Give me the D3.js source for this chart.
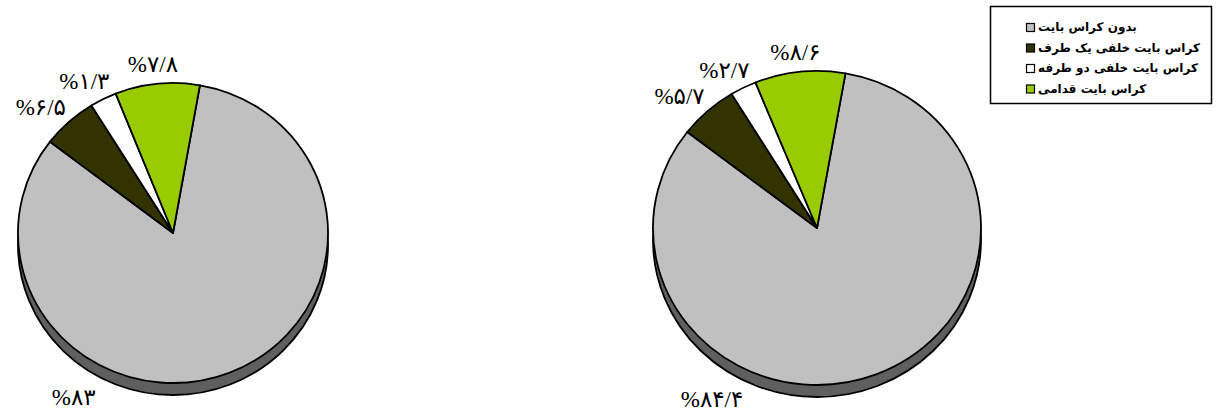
<!DOCTYPE html>
<html>
<head>
<meta charset="utf-8">
<script src="https://cdn.jsdelivr.net/npm/d3@7"></script>
<style>
  body { margin: 0; background: #fff; }
  svg { display: block; }
</style>
</head>
<body>
<script>
// categories, in drawing order (clockwise from the start angle)
var categories = ["بدون کراس بایت", "کراس بایت خلفی یک طرف", "کراس بایت خلفی دو طرفه", "کراس بایت قدامی"];
var colors = ["#c0c0c0", "#333300", "#ffffff", "#99cc00"];

// slice shares as drawn in the picture
var leftShares = [82.6, 5.75, 2.8, 8.8];
var rightShares = [82.7, 5.8, 2.6, 8.9];

// data label texts printed on each pie
var leftLabels = ["%۸۳", "%۶/۵", "%۱/۳", "%۷/۸"];
var rightLabels = ["%۸۴/۴", "%۵/۷", "%۲/۷", "%۸/۶"];

var width = 1216,
    height = 413,
    depth = 12,
    startDeg = 10;

var svg = d3.select("body").append("svg")
    .attr("width", width)
    .attr("height", height);

var pie = d3.pie()
    .sort(null)
    .value(function(d) { return d; })
    .startAngle(startDeg * Math.PI / 180)
    .endAngle(startDeg * Math.PI / 180 + 2 * Math.PI);

function drawPie(shares, labels, cx, cy, rx, ry) {
  var g = svg.append("g");
  var arc = d3.arc().innerRadius(0).outerRadius(rx);
  var k = ry / rx;

  // side of the disc
  g.append("ellipse")
      .attr("cx", cx)
      .attr("cy", cy + depth)
      .attr("rx", rx)
      .attr("ry", ry)
      .attr("fill", "#5f5f5f")
      .attr("stroke", "#000")
      .attr("stroke-width", 1.8);

  var face = g.append("g")
      .attr("transform", "translate(" + cx + "," + cy + ") scale(1," + k + ")");

  var arcs = pie(shares);

  face.selectAll("path")
      .data(arcs)
    .enter().append("path")
      .attr("d", arc)
      .attr("fill", function(d, i) { return colors[i]; })
      .attr("stroke", "#000")
      .attr("stroke-width", 1.8)
      .attr("stroke-linejoin", "round")
      .attr("vector-effect", "non-scaling-stroke");

  // labels: small slices sit outside their mid-angle, the big one below-left
  function labelPos(d, i) {
    if (i === 0) return [cx - 0.64 * rx, cy + ry + 14];
    var a = (d.startAngle + d.endAngle) / 2;
    return [cx + Math.sin(a) * (rx + 42), cy - Math.cos(a) * (ry + 20)];
  }

  g.selectAll("text.lbl")
      .data(arcs)
    .enter().append("text")
      .attr("class", "lbl")
      .attr("x", function(d, i) { return labelPos(d, i)[0]; })
      .attr("y", function(d, i) { return labelPos(d, i)[1]; })
      .attr("dy", "0.35em")
      .attr("text-anchor", "middle")
      .style("direction", "ltr")
      .style("unicode-bidi", "bidi-override")
      .style("font-family", "'Liberation Serif', 'DejaVu Sans', serif")
      .style("font-size", "23px")
      .style("letter-spacing", "1px")
      .attr("fill", "#000")
      .text(function(d, i) { return labels[i]; });
}

drawPie(leftShares, leftLabels, 173, 233, 155, 150);
drawPie(rightShares, rightLabels, 817, 228, 164, 157);

// legend
var legend = svg.append("g");
legend.append("rect")
    .attr("x", 990.5)
    .attr("y", 6.5)
    .attr("width", 221)
    .attr("height", 97)
    .attr("fill", "#fff")
    .attr("stroke", "#000")
    .attr("stroke-width", 1.5);

var rowY = d3.scalePoint()
    .domain(d3.range(categories.length))
    .range([27, 88.5]);

var item = legend.selectAll("g.item")
    .data(categories)
  .enter().append("g")
    .attr("class", "item")
    .attr("transform", function(d, i) { return "translate(1026," + rowY(i) + ")"; });

item.append("rect")
    .attr("x", 0.5)
    .attr("y", -3.5)
    .attr("width", 8)
    .attr("height", 8)
    .attr("fill", function(d, i) { return colors[i]; })
    .attr("stroke", "#000")
    .attr("stroke-width", 1.2);

item.append("text")
    .attr("x", 12)
    .attr("y", 0)
    .attr("dy", "0.35em")
    .attr("text-anchor", "start")
    .style("font-family", "'DejaVu Sans', sans-serif")
    .style("font-weight", "bold")
    .style("font-size", "12px")
    .attr("fill", "#000")
    .text(function(d) { return d; });
</script>
</body>
</html>
